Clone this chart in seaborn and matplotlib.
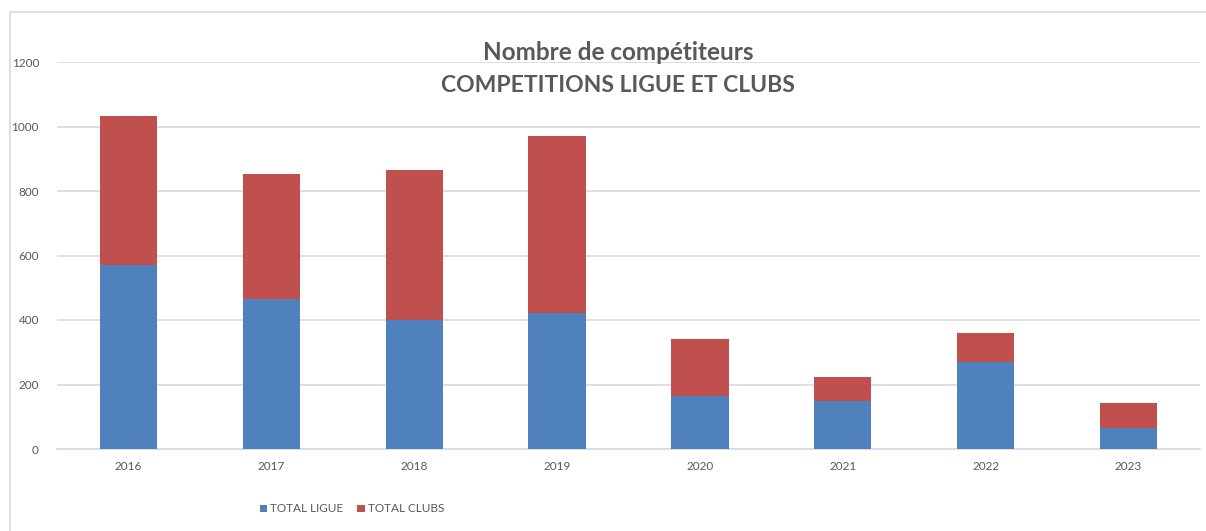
import matplotlib
matplotlib.use("Agg")
import matplotlib.pyplot as plt
import seaborn as sns
import pandas as pd
from matplotlib.patches import Rectangle

years = ["2016", "2017", "2018", "2019", "2020", "2021", "2022", "2023"]
total_ligue = [570, 465, 399, 421, 165, 150, 271, 64]
total_clubs = [463, 388, 467, 551, 177, 74, 89, 79]
yticks = [0, 200, 400, 600, 800, 1000, 1200]

BLUE = "#4F81BD"
RED = "#C0504D"
GRAY_TXT = "#595959"
GRID = "#D9D9D9"

sns.set_theme(style="white")
plt.rcParams["font.family"] = ["Lato", "DejaVu Sans"]

df = pd.DataFrame({"year": years, "ligue": total_ligue, "clubs": total_clubs})
df["total"] = df["ligue"] + df["clubs"]

fig = plt.figure(figsize=(12.06, 5.31), dpi=100)
W, H = 1206, 531
ax = fig.add_axes([57 / W, (H - 449) / H, (1200 - 57) / W, 387 / H])

sns.barplot(data=df, x="year", y="total", color=RED, width=0.4, ax=ax,
            saturation=1, label="TOTAL CLUBS", zorder=2, linewidth=0)
sns.barplot(data=df, x="year", y="ligue", color=BLUE, width=0.4, ax=ax,
            saturation=1, label="TOTAL LIGUE", zorder=3, linewidth=0)

ax.set_ylim(0, 1200)
ax.set_xlim(-0.5, len(years) - 0.5)
ax.set_yticks(yticks)
ax.set_yticklabels([str(v) for v in yticks])
ax.yaxis.grid(True, color=GRID, linewidth=1.2, zorder=0)
ax.set_axisbelow(True)
for s in ["top", "right", "left"]:
    ax.spines[s].set_visible(False)
ax.spines["bottom"].set_color(GRID)
ax.spines["bottom"].set_linewidth(1.2)
ax.tick_params(axis="y", length=0, pad=13, labelsize=8.5, labelcolor=GRAY_TXT)
ax.tick_params(axis="x", length=0, pad=9, labelsize=8.5, labelcolor=GRAY_TXT)
ax.set_xlabel("")
ax.set_ylabel("")
if ax.get_legend() is not None:
    ax.get_legend().remove()

fig.text(618 / W, 1 - 52 / H, "Nombre de compétiteurs", ha="center", va="center",
         fontsize=17.5, fontweight="bold", color=GRAY_TXT)
fig.text(618 / W, 1 - 86 / H, "COMPETITIONS LIGUE ET CLUBS", ha="center", va="center",
         fontsize=16.5, fontweight="bold", color=GRAY_TXT)

handles, labels = ax.get_legend_handles_labels()
order = [labels.index("TOTAL LIGUE"), labels.index("TOTAL CLUBS")]
leg = fig.legend([handles[i] for i in order], [labels[i] for i in order],
                 loc="center", bbox_to_anchor=(352 / W, 1 - 509 / H), ncol=2,
                 frameon=False, fontsize=8.5, handlelength=0.6, handleheight=0.6,
                 handletextpad=0.3, columnspacing=1.2, labelcolor=GRAY_TXT)

fig.patches.append(Rectangle((10 / W, -0.1), 1.2, 1 - 12 / H + 0.1,
                             transform=fig.transFigure, fill=False,
                             edgecolor=GRID, linewidth=1.2))

fig.savefig("out.png", dpi=100, facecolor="white")
